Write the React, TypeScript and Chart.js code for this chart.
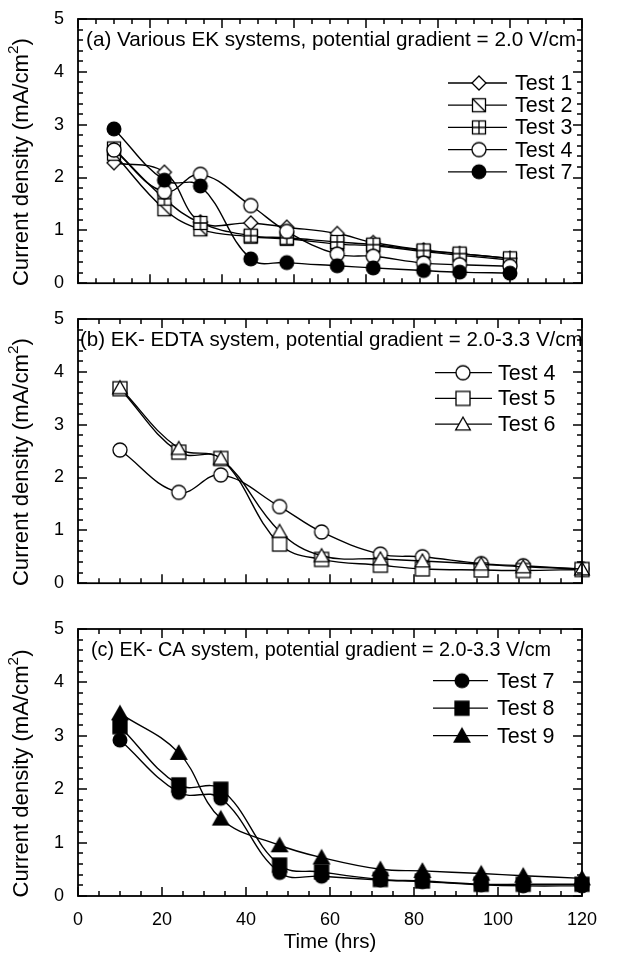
import React, { useEffect, useRef } from "react";
import { Chart, registerables } from "chart.js";
Chart.register(...registerables);

// ---------- data ----------
const hours = [10, 24, 34, 48, 58, 72, 82, 96, 106, 120];

const test1A = [2.28, 2.1, 1.16, 1.14, 1.06, 0.94, 0.77, 0.63, 0.56, 0.47];
const test2A = [2.45, 1.4, 1.02, 0.88, 0.84, 0.74, 0.71, 0.6, 0.53, 0.44];
const test3A = [2.55, 1.6, 1.14, 0.9, 0.86, 0.78, 0.73, 0.62, 0.56, 0.47];
const test4A = [2.52, 1.73, 2.06, 1.47, 0.98, 0.55, 0.51, 0.38, 0.35, 0.32];
const test7A = [2.92, 1.95, 1.84, 0.46, 0.39, 0.33, 0.29, 0.24, 0.21, 0.19];

const test4B = [2.52, 1.72, 2.05, 1.45, 0.97, 0.55, 0.5, 0.37, 0.33, 0.27];
const test5B = [3.68, 2.48, 2.36, 0.74, 0.45, 0.34, 0.27, 0.25, 0.24, 0.26];
const test6B = [3.7, 2.55, 2.36, 0.98, 0.52, 0.46, 0.42, 0.36, 0.31, 0.27];

const test7C = [2.92, 1.94, 1.83, 0.44, 0.37, 0.3, 0.27, 0.21, 0.19, 0.19];
const test8C = [3.17, 2.08, 2.0, 0.58, 0.45, 0.31, 0.28, 0.22, 0.22, 0.22];
const test9C = [3.42, 2.68, 1.45, 0.95, 0.72, 0.5, 0.47, 0.42, 0.38, 0.33];

const titleA = "(a) Various EK systems, potential gradient = 2.0 V/cm";
const titleB = "(b) EK- EDTA system, potential gradient = 2.0-3.3 V/cm";
const titleC = "(c) EK- CA system, potential gradient = 2.0-3.3 V/cm";
const yTitle = "Current density (mA/cm";
const yTitleSup = "2";
const xTitle = "Time (hrs)";

const FONT = "'Liberation Sans', Arial, Helvetica, sans-serif";

// ---------- markers ----------
function makeMarker(kind: string): HTMLCanvasElement {
  const s = 20;
  const c = document.createElement("canvas");
  c.width = s;
  c.height = s;
  const g = c.getContext("2d")!;
  const m = s / 2;
  g.lineWidth = 1.3;
  g.strokeStyle = "#000";
  g.fillStyle = "#fff";
  const sq = (h: number, fill: string) => {
    g.fillStyle = fill;
    g.fillRect(m - h, m - h, 2 * h, 2 * h);
    g.strokeRect(m - h, m - h, 2 * h, 2 * h);
  };
  const tri = (h: number, fill: string) => {
    g.beginPath();
    g.moveTo(m, m - h);
    g.lineTo(m + h * 1.05, m + h * 0.85);
    g.lineTo(m - h * 1.05, m + h * 0.85);
    g.closePath();
    g.fillStyle = fill;
    g.fill();
    g.stroke();
  };
  switch (kind) {
    case "diamond": {
      const r = 7;
      g.beginPath();
      g.moveTo(m, m - r);
      g.lineTo(m + r, m);
      g.lineTo(m, m + r);
      g.lineTo(m - r, m);
      g.closePath();
      g.fill();
      g.stroke();
      break;
    }
    case "sqDiag": {
      sq(6.5, "#fff");
      g.beginPath();
      g.moveTo(m - 6.5, m - 6.5);
      g.lineTo(m + 6.5, m + 6.5);
      g.stroke();
      break;
    }
    case "sqCross": {
      sq(6.5, "#fff");
      g.beginPath();
      g.moveTo(m, m - 6.5);
      g.lineTo(m, m + 6.5);
      g.moveTo(m - 6.5, m);
      g.lineTo(m + 6.5, m);
      g.stroke();
      break;
    }
    case "circle": {
      g.beginPath();
      g.arc(m, m, 7, 0, Math.PI * 2);
      g.fill();
      g.stroke();
      break;
    }
    case "circleFilled": {
      g.beginPath();
      g.arc(m, m, 7.5, 0, Math.PI * 2);
      g.fillStyle = "#000";
      g.fill();
      break;
    }
    case "square":
      sq(7, "#fff");
      break;
    case "squareFilled":
      sq(7, "#000");
      break;
    case "triangle":
      tri(7, "#fff");
      break;
    case "triangleFilled":
      tri(7.5, "#000");
      break;
  }
  return c;
}

type Series = { label: string; data: number[]; marker: string };
type Panel = {
  top: number;
  height: number;
  plotTop: number;
  plotBottom: number;
  xMax: number;
  title: string;
  titleX: number;
  titleSize: number;
  series: Series[];
  legendLineX: [number, number];
  legendMarkerX: number;
  legendTextX: number;
  legendY0: number;
  legendDy: number;
  showXLabels: boolean;
};

const panels: Panel[] = [
  {
    top: 0,
    height: 300,
    plotTop: 19,
    plotBottom: 286,
    xMax: 140,
    title: titleA,
    titleX: 86,
    titleSize: 20.7,
    series: [
      { label: "Test 1", data: test1A, marker: "diamond" },
      { label: "Test 2", data: test2A, marker: "sqDiag" },
      { label: "Test 3", data: test3A, marker: "sqCross" },
      { label: "Test 4", data: test4A, marker: "circle" },
      { label: "Test 7", data: test7A, marker: "circleFilled" },
    ],
    legendLineX: [448, 507],
    legendMarkerX: 479,
    legendTextX: 515,
    legendY0: 83,
    legendDy: 22.2,
    showXLabels: false,
  },
  {
    top: 300,
    height: 300,
    plotTop: 19,
    plotBottom: 286,
    xMax: 120,
    title: titleB,
    titleX: 80,
    titleSize: 20.5,
    series: [
      { label: "Test 4", data: test4B, marker: "circle" },
      { label: "Test 5", data: test5B, marker: "square" },
      { label: "Test 6", data: test6B, marker: "triangle" },
    ],
    legendLineX: [435, 492],
    legendMarkerX: 463,
    legendTextX: 498,
    legendY0: 72.7,
    legendDy: 25.7,
    showXLabels: false,
  },
  {
    top: 600,
    height: 356,
    plotTop: 29,
    plotBottom: 296,
    xMax: 120,
    title: titleC,
    titleX: 91,
    titleSize: 19.8,
    series: [
      { label: "Test 7", data: test7C, marker: "circleFilled" },
      { label: "Test 8", data: test8C, marker: "squareFilled" },
      { label: "Test 9", data: test9C, marker: "triangleFilled" },
    ],
    legendLineX: [433, 488],
    legendMarkerX: 462,
    legendTextX: 497,
    legendY0: 80.7,
    legendDy: 27.5,
    showXLabels: true,
  },
];

function makeDecor(p: Panel, markers: HTMLCanvasElement[]) {
  return {
    id: "decor",
    afterDraw(chart: any) {
      const ctx: CanvasRenderingContext2D = chart.ctx;
      const a = chart.chartArea;
      const xs = chart.scales.x;
      const ys = chart.scales.y;
      ctx.save();
      ctx.strokeStyle = "#000";
      ctx.lineWidth = 1.8;
      ctx.strokeRect(a.left, a.top, a.right - a.left, a.bottom - a.top);
      ctx.lineWidth = 1.5;
      ctx.beginPath();
      // x ticks (minor 5, major 20)
      for (let v = 0; v <= p.xMax + 1e-6; v += 5) {
        const px = Math.round(xs.getPixelForValue(v));
        const len = v % 20 === 0 ? 9 : 5;
        ctx.moveTo(px, a.bottom);
        ctx.lineTo(px, a.bottom - len);
        ctx.moveTo(px, a.top);
        ctx.lineTo(px, a.top + len);
      }
      // y ticks (minor 0.2, major 1)
      for (let i = 0; i <= 25; i++) {
        const v = i * 0.2;
        const py = Math.round(ys.getPixelForValue(v));
        const len = i % 5 === 0 ? 9 : 5;
        ctx.moveTo(a.left, py);
        ctx.lineTo(a.left + len, py);
        ctx.moveTo(a.right, py);
        ctx.lineTo(a.right - len, py);
      }
      ctx.stroke();

      // panel title
      ctx.fillStyle = "#000";
      ctx.font = `${p.titleSize}px ${FONT}`;
      ctx.textBaseline = "alphabetic";
      ctx.textAlign = "left";
      ctx.fillText(p.title, p.titleX, a.top + 27);

      // legend
      ctx.lineWidth = 1.3;
      ctx.font = `21.5px ${FONT}`;
      ctx.textBaseline = "middle";
      p.series.forEach((s, i) => {
        const y = p.legendY0 + i * p.legendDy;
        ctx.beginPath();
        ctx.moveTo(p.legendLineX[0], y);
        ctx.lineTo(p.legendLineX[1], y);
        ctx.stroke();
        const mk = markers[i];
        ctx.drawImage(mk, p.legendMarkerX - mk.width / 2, y - mk.height / 2);
        ctx.fillText(s.label, p.legendTextX, y + 1);
      });

      // y title
      ctx.save();
      const cy = (a.top + a.bottom) / 2 + 11;
      ctx.translate(22, cy);
      ctx.rotate(-Math.PI / 2);
      ctx.font = `21.5px ${FONT}`;
      const w1 = ctx.measureText(yTitle).width;
      ctx.font = `15px ${FONT}`;
      const w2 = ctx.measureText(yTitleSup).width;
      ctx.font = `21.5px ${FONT}`;
      const w3 = ctx.measureText(")").width;
      const total = w1 + w2 + w3;
      const sx = 248 / total;
      ctx.scale(sx, 1);
      const start = -total / 2;
      ctx.textBaseline = "middle";
      ctx.fillText(yTitle, start, 0);
      ctx.font = `15px ${FONT}`;
      ctx.fillText(yTitleSup, start + w1, -8);
      ctx.font = `21.5px ${FONT}`;
      ctx.fillText(")", start + w1 + w2, 0);
      ctx.restore();

      if (p.showXLabels) {
        ctx.font = `20.5px ${FONT}`;
        ctx.textAlign = "center";
        ctx.textBaseline = "middle";
        ctx.fillText(xTitle, (a.left + a.right) / 2, a.bottom + 46);
      }
      ctx.restore();
    },
  };
}

export default function App() {
  const refs = [useRef<HTMLCanvasElement>(null), useRef<HTMLCanvasElement>(null), useRef<HTMLCanvasElement>(null)];

  useEffect(() => {
    const charts: Chart[] = [];
    panels.forEach((p, idx) => {
      const cv = refs[idx].current;
      if (!cv) return;
      const markers = p.series.map((s) => makeMarker(s.marker));
      const n = p.series.length;
      const chart = new Chart(cv, {
        type: "line",
        data: {
          datasets: p.series.map((s, i) => ({
            label: s.label,
            data: hours.map((h, k) => ({ x: h, y: s.data[k] })),
            borderColor: "#000",
            borderWidth: 1.4,
            tension: 0.4,
            pointStyle: markers[i] as any,
            pointRadius: 7,
            clip: false as any,
            fill: false,
            order: n - i,
          })),
        },
        options: {
          animation: false,
          responsive: false,
          devicePixelRatio: 1,
          events: [],
          layout: { padding: { top: p.plotTop, right: 46, left: 0, bottom: 0 }, autoPadding: false } as any,
          plugins: { legend: { display: false }, tooltip: { enabled: false }, title: { display: false } },
          scales: {
            x: {
              type: "linear",
              min: 0,
              max: p.xMax,
              grid: { display: false },
              border: { display: false },
              ticks: {
                display: p.showXLabels,
                stepSize: 20,
                color: "#000",
                font: { family: FONT, size: 18 },
                padding: 5,
                maxRotation: 0,
              },
              afterFit: (sc: any) => {
                sc.height = p.height - p.plotBottom;
              },
            },
            y: {
              type: "linear",
              min: 0,
              max: 5,
              grid: { display: false },
              border: { display: false },
              ticks: {
                stepSize: 1,
                color: "#000",
                font: { family: FONT, size: 18 },
                padding: 6,
              },
              afterFit: (sc: any) => {
                sc.width = 78;
              },
            },
          },
        },
        plugins: [makeDecor(p, markers)],
      });
      charts.push(chart);
    });
    return () => charts.forEach((c) => c.destroy());
  }, []);

  return (
    <div style={{ position: "absolute", left: 0, top: 0, width: 628, height: 956, background: "#fff" }}>
      {panels.map((p, i) => (
        <canvas
          key={i}
          ref={refs[i]}
          width={628}
          height={p.height}
          style={{ position: "absolute", left: 0, top: p.top, width: 628, height: p.height }}
        />
      ))}
    </div>
  );
}
